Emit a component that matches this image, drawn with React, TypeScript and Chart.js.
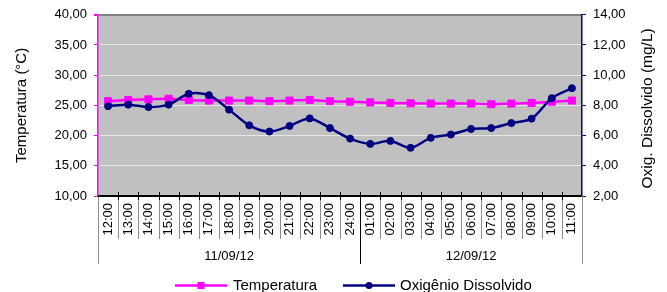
import { useEffect, useRef } from "react";
import { Chart, registerables } from "chart.js";

Chart.register(...registerables);

const hours = [
  "12:00", "13:00", "14:00", "15:00", "16:00", "17:00", "18:00", "19:00",
  "20:00", "21:00", "22:00", "23:00", "24:00", "01:00", "02:00", "03:00",
  "04:00", "05:00", "06:00", "07:00", "08:00", "09:00", "10:00", "11:00",
];
const dates = ["11/09/12", "12/09/12"];
const dateSpans = [13, 11];

const temperatura = [
  25.7, 25.9, 26.0, 26.1, 25.9, 25.8, 25.8, 25.8, 25.7, 25.8, 25.9, 25.7,
  25.6, 25.5, 25.4, 25.35, 25.3, 25.3, 25.3, 25.2, 25.3, 25.4, 25.6, 25.8,
];
const oxigenio = [
  7.95, 8.05, 7.89, 8.05, 8.77, 8.68, 7.72, 6.68, 6.27, 6.64, 7.14, 6.5,
  5.8, 5.45, 5.65, 5.19, 5.85, 6.07, 6.44, 6.5, 6.83, 7.12, 8.48, 9.14,
];

const seriesNames = ["Temperatura", "Oxigênio Dissolvido"];
const leftTitle = "Temperatura (°C)";
const rightTitle = "Oxig. Dissolvido (mg/L)";

const FONT = "'Liberation Sans', Arial, sans-serif";
const PINK = "#FF00FF";
const NAVY = "#000080";

const fmt = (v: number | string) => Number(v).toFixed(2).replace(".", ",");

const decorations = {
  id: "decorations",
  beforeDraw(chart: any) {
    const { ctx, chartArea } = chart;
    ctx.save();
    ctx.fillStyle = "#C0C0C0";
    ctx.fillRect(chartArea.left, chartArea.top, chartArea.right - chartArea.left, chartArea.bottom - chartArea.top);
    ctx.restore();
  },
  afterDraw(chart: any) {
    const { ctx, chartArea } = chart;
    const xs = chart.scales.x;
    const left = chartArea.left;
    const right = chartArea.right;
    const bottom = chartArea.bottom;
    const n = hours.length;
    const step = (right - left) / n;
    const groupBounds = new Set<number>();
    let acc = 0;
    groupBounds.add(0);
    dateSpans.forEach((s) => {
      acc += s;
      groupBounds.add(acc);
    });
    ctx.save();
    // category separators
    for (let k = 0; k <= n; k++) {
      const x = Math.round(left + k * step) + 0.5;
      const isGroup = groupBounds.has(k);
      const isEdge = k === 0 || k === n;
      ctx.beginPath();
      ctx.lineWidth = 1;
      ctx.strokeStyle = isGroup && !isEdge ? "#000000" : "#8C8C8C";
      ctx.moveTo(x, bottom);
      ctx.lineTo(x, bottom + (isGroup ? 68 : 43));
      ctx.stroke();
      if (!isEdge) {
        ctx.beginPath();
        ctx.strokeStyle = "#000000";
        ctx.moveTo(x, bottom - 4);
        ctx.lineTo(x, bottom + 4);
        ctx.stroke();
      }
    }
    // x axis line
    ctx.beginPath();
    ctx.strokeStyle = "#000000";
    ctx.lineWidth = 2;
    ctx.moveTo(left, bottom);
    ctx.lineTo(right, bottom);
    ctx.stroke();
    // date labels
    ctx.fillStyle = "#000000";
    ctx.font = `13px ${FONT}`;
    ctx.textAlign = "center";
    ctx.textBaseline = "middle";
    let start = 0;
    dates.forEach((d, i) => {
      const end = start + dateSpans[i];
      const cx = (xs.getPixelForValue(start) + xs.getPixelForValue(end - 1)) / 2;
      ctx.fillText(d, cx, bottom + 60);
      start = end;
    });
    // axis titles
    const cy = (chartArea.top + chartArea.bottom) / 2;
    ctx.font = `15px ${FONT}`;
    ctx.save();
    ctx.translate(22, cy);
    ctx.rotate(-Math.PI / 2);
    ctx.fillText(leftTitle, 0, 0);
    ctx.restore();
    ctx.font = `15.5px ${FONT}`;
    ctx.save();
    ctx.translate(648, cy + 3);
    ctx.rotate(-Math.PI / 2);
    ctx.fillText(rightTitle, 0, 0);
    ctx.restore();
    // legend
    const ly = 285.5;
    ctx.font = `15px ${FONT}`;
    ctx.textAlign = "left";
    ctx.lineWidth = 2.5;
    ctx.strokeStyle = PINK;
    ctx.beginPath();
    ctx.moveTo(175, ly);
    ctx.lineTo(227, ly);
    ctx.stroke();
    ctx.fillStyle = PINK;
    ctx.fillRect(197.5, ly - 3.5, 7, 7);
    ctx.fillStyle = "#000000";
    ctx.fillText(seriesNames[0], 233, ly);
    ctx.strokeStyle = NAVY;
    ctx.beginPath();
    ctx.moveTo(343, ly);
    ctx.lineTo(395, ly);
    ctx.stroke();
    ctx.fillStyle = NAVY;
    ctx.beginPath();
    ctx.arc(369, ly, 3.5, 0, Math.PI * 2);
    ctx.fill();
    ctx.fillStyle = "#000000";
    ctx.fillText(seriesNames[1], 400, ly);
    ctx.restore();
  },
};

export default function App() {
  const ref = useRef<HTMLCanvasElement | null>(null);
  useEffect(() => {
    if (!ref.current) return;
    const chart = new Chart(ref.current, {
      type: "line",
      data: {
        labels: hours,
        datasets: [
          {
            label: seriesNames[0],
            data: temperatura,
            yAxisID: "y",
            borderColor: PINK,
            backgroundColor: PINK,
            borderWidth: 2.5,
            pointStyle: "rect",
            pointRadius: 5,
            pointBorderWidth: 1,
            tension: 0.3,
            order: 2,
          },
          {
            label: seriesNames[1],
            data: oxigenio,
            yAxisID: "y1",
            borderColor: NAVY,
            backgroundColor: NAVY,
            borderWidth: 2.5,
            pointStyle: "circle",
            pointRadius: 3.5,
            pointBorderWidth: 1,
            tension: 0.3,
            order: 1,
          },
        ],
      },
      options: {
        responsive: false,
        animation: false,
        layout: { padding: { top: 14, left: 0, right: 0, bottom: 0 } },
        plugins: { legend: { display: false }, tooltip: { enabled: false } },
        scales: {
          x: {
            type: "category",
            offset: true,
            grid: { display: false, drawTicks: false },
            border: { display: false },
            ticks: {
              autoSkip: false,
              maxRotation: 90,
              minRotation: 90,
              padding: 7,
              color: "#000000",
              font: { family: FONT, size: 13 },
            },
            afterFit: (s: any) => {
              s.height = 96;
            },
          },
          y: {
            position: "left",
            min: 10,
            max: 40,
            ticks: {
              stepSize: 5,
              padding: 7,
              color: "#000000",
              font: { family: FONT, size: 13 },
              callback: (v: any) => fmt(v),
            },
            grid: {
              color: (c: any) => (c.tick && c.tick.value === 40 ? "#808080" : "#E6E6E6"),
              lineWidth: (c: any) => (c.tick && c.tick.value === 40 ? 2 : 1),
              tickColor: PINK,
              tickLength: 4,
            },
            border: { color: PINK, width: 1.5 },
            afterFit: (s: any) => {
              s.width = 98;
            },
          },
          y1: {
            position: "right",
            min: 2,
            max: 14,
            ticks: {
              stepSize: 2,
              padding: 7,
              color: "#000000",
              font: { family: FONT, size: 13 },
              callback: (v: any) => fmt(v),
            },
            grid: {
              drawOnChartArea: false,
              tickColor: NAVY,
              tickLength: 4,
            },
            border: { color: NAVY, width: 1.5 },
            afterFit: (s: any) => {
              s.width = 85;
            },
          },
        },
      },
      plugins: [decorations],
    });
    return () => chart.destroy();
  }, []);
  return (
    <div style={{ position: "absolute", left: 0, top: 0, width: 667, height: 292 }}>
      <canvas ref={ref} width={667} height={292} style={{ display: "block" }} />
    </div>
  );
}
